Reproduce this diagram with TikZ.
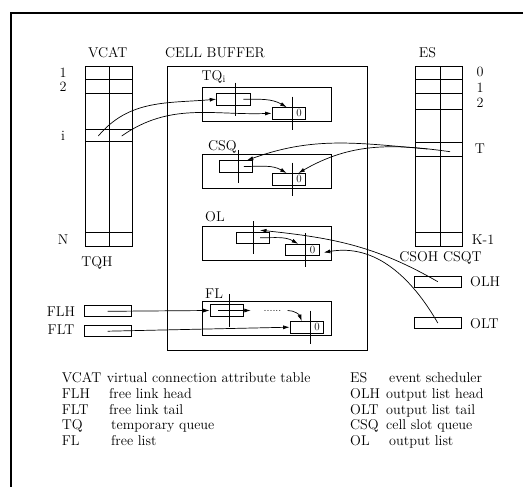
\documentclass[tikz,border=0pt]{standalone}
\usepackage{fontspec}
\usepackage{tikz}
\usetikzlibrary{arrows.meta,calc}
\tikzset{
  ptr/.style={-{Latex[length=6.5pt,width=4pt]}, line width=0.7pt},
  tbl/.style={draw, line width=0.7pt},
  outline/.style={line width=2pt},
  buffer/.style={draw, line width=0.8pt, inner sep=0pt},
  queue/.style={draw, line width=0.8pt, minimum width=129pt, minimum height=34pt, inner sep=0pt},
  cell/.style={draw, line width=0.7pt, minimum width=33.5pt, minimum height=11.5pt, inner sep=0pt},
  reg/.style={draw, line width=0.7pt, minimum width=47pt, minimum height=11pt, inner sep=0pt},
  txt/.style={font=\fontsize{14.2}{17}\selectfont, inner sep=0pt},
  zero/.style={font=\fontsize{11}{13}\selectfont, inner sep=0pt}
}

\begin{document}
\begin{tikzpicture}[x=1pt,y=1pt]
  \useasboundingbox (0,0) rectangle (529,487);
  \draw[outline] (523,474) -- (11,474) -- (11,0);
  \node[txt] (vcat) at (107.7,434.3) {VCAT};
  \node[txt] (cbuf) at (215,434.3) {CELL BUFFER};
  \node[txt] (es) at (427.5,434.3) {ES};

  \draw[tbl] (85.7,241) rectangle (132.7,421);
  \draw[tbl] (109.7,241) -- (109.7,421);
  \foreach \y in {407.5,393.7,357.7,345.3,254.3}{\draw[tbl] (85.7,\y) -- (132.7,\y);}
  \node[txt] (v1) at (63,414.5) {1};
  \node[txt] (v2) at (63,400.3) {2};
  \node[txt] (vi) at (63,351.5) {i};
  \node[txt] (vn) at (63,247.5) {N};
  \node[txt] (tqh) at (97,224) {TQH};
  \coordinate (vi1) at (98.3,351);
  \coordinate (vi2) at (121.7,351);

  \draw[tbl] (415.3,241) rectangle (462,421);
  \draw[tbl] (440.3,241) -- (440.3,421);
  \foreach \y in {407.5,393.7,378,344.3,330.3,254.3}{\draw[tbl] (415.3,\y) -- (462,\y);}
  \node[txt] (e0) at (480,415.3) {0};
  \node[txt] (e1) at (480,399) {1};
  \node[txt] (e2) at (480,384) {2};
  \node[txt] (et) at (480,338.7) {T};
  \node[txt,anchor=west] (ek) at (471.7,247.7) {K-1};
  \node[txt] (csqt) at (440.5,229) {CSOH CSQT};
  \coordinate (esh) at (427.3,338);
  \coordinate (est) at (450,335.3);

  \node[reg] (olh) at (437.8,205.3) {};
  \node[reg] (olt) at (437.8,164) {};
  \node[txt,anchor=west] (olhl) at (470,205.3) {OLH};
  \node[txt,anchor=west] (oltl) at (470,163.5) {OLT};
  \node[reg] (flh) at (107.7,175.7) {};
  \node[reg] (flt) at (107.7,155.8) {};
  \node[txt] (flhl) at (61,175.3) {FLH};
  \node[txt] (fltl) at (61,157) {FLT};

  \node[buffer, minimum width=200.4pt, minimum height=284pt] (cb) at (267.5,279) {};
  \node[queue] (tq) at (266.5,382.3) {};
  \node[queue] (csq) at (266.5,315.3) {};
  \node[queue] (ol) at (266.5,244) {};
  \node[queue] (fl) at (266.5,168.7) {};
  \node[txt,anchor=west] (tql) at (201.5,410.3) {TQ$_{\mathrm{i}}$};
  \node[txt] (csql) at (222.3,340.3) {CSQ};
  \node[txt,anchor=west] (oll) at (205,270.3) {OL};
  \node[txt,anchor=west] (fll) at (205,193.7) {FL};

  \foreach \n/\x/\y/\d in {tqa/233.3/387.8/2, tqb/288.7/373.7/3.2, csa/235.8/320.5/3, csb/288.7/307.8/3.2,
      ola/252.7/249.2/1, olb/302.2/237/3.4, fla/226.7/176.5/2.6, flb/306.7/159.8/3.3}{
    \node[cell] (\n) at (\x,\y) {};
    \draw[tbl] ($(\n.north)+(\d,10.5)$) -- ($(\n.south)+(\d,-10.5)$);
  }
  \foreach \n in {tqb,csb,olb,flb}{\node[zero] (\n0) at ($(\n.east)+(-6.8,0)$) {0};}

  \draw[ptr] ($(tqa.center)+(10,0)$) to[out=0,in=150] ($(tqb.north)+(-2,0)$);
  \draw[ptr] ($(csa.center)+(8,0)$) to[out=0,in=150] ($(csb.north)+(-2,0)$);
  \draw[ptr] ($(ola.center)+(7.5,0)$) to[out=0,in=150] ($(olb.north)+(-4,0)$);
  \draw[ptr] ($(fla.center)+(-8.4,0)$) -- ($(fla.east)+(7,0)$);
  \node[zero] (dots) at (272.5,176.5) {......};
  \draw[ptr] ($(dots.east)+(6,0)$) to[out=0,in=110] ($(flb.north)+(-5,0)$);

  \draw[ptr] (vi1) to[out=50,in=185] (tqa.west);
  \draw[ptr] (vi2) to[out=35,in=182] (tqb.west);
  \draw[ptr] (esh) to[out=175,in=20] ($(csa.north)+(11,0)$);
  \draw[ptr] (est) to[out=172,in=30] ($(csb.north)+(9.6,0)$);
  \draw[ptr] (olh.center) to[out=150,in=-6] ($(ola.north)+(7.3,1.5)$);
  \draw[ptr] (olt.center) to[out=120,in=10] ($(olb.east)+(4.5,-2.5)$);
  \draw[ptr] (flh.center) -- (fla.west);
  \draw[ptr] (flt.center) -- (flb.west);

  \foreach \a/\b/\xb [count=\i] in {VCAT/virtual connection attribute table/106.7, FLH/free link head/109,
      FLT/free link tail/109, TQ/temporary queue/111, FL/free list/111}{
    \node[txt,anchor=base west] (ka\i) at (61.7,{119.9-15.7*\i}) {\a};
    \node[txt,anchor=base west] (kb\i) at (\xb,{119.9-15.7*\i}) {\b};
  }
  \foreach \a/\b/\xb [count=\i] in {ES/event scheduler/389, OLH/output list head/386,
      OLT/output list tail/386, CSQ/cell slot queue/386, OL/output list/389}{
    \node[txt,anchor=base west] (kc\i) at (350,{119.9-15.7*\i}) {\a};
    \node[txt,anchor=base west] (kd\i) at (\xb,{119.9-15.7*\i}) {\b};
  }
\end{tikzpicture}
\end{document}
